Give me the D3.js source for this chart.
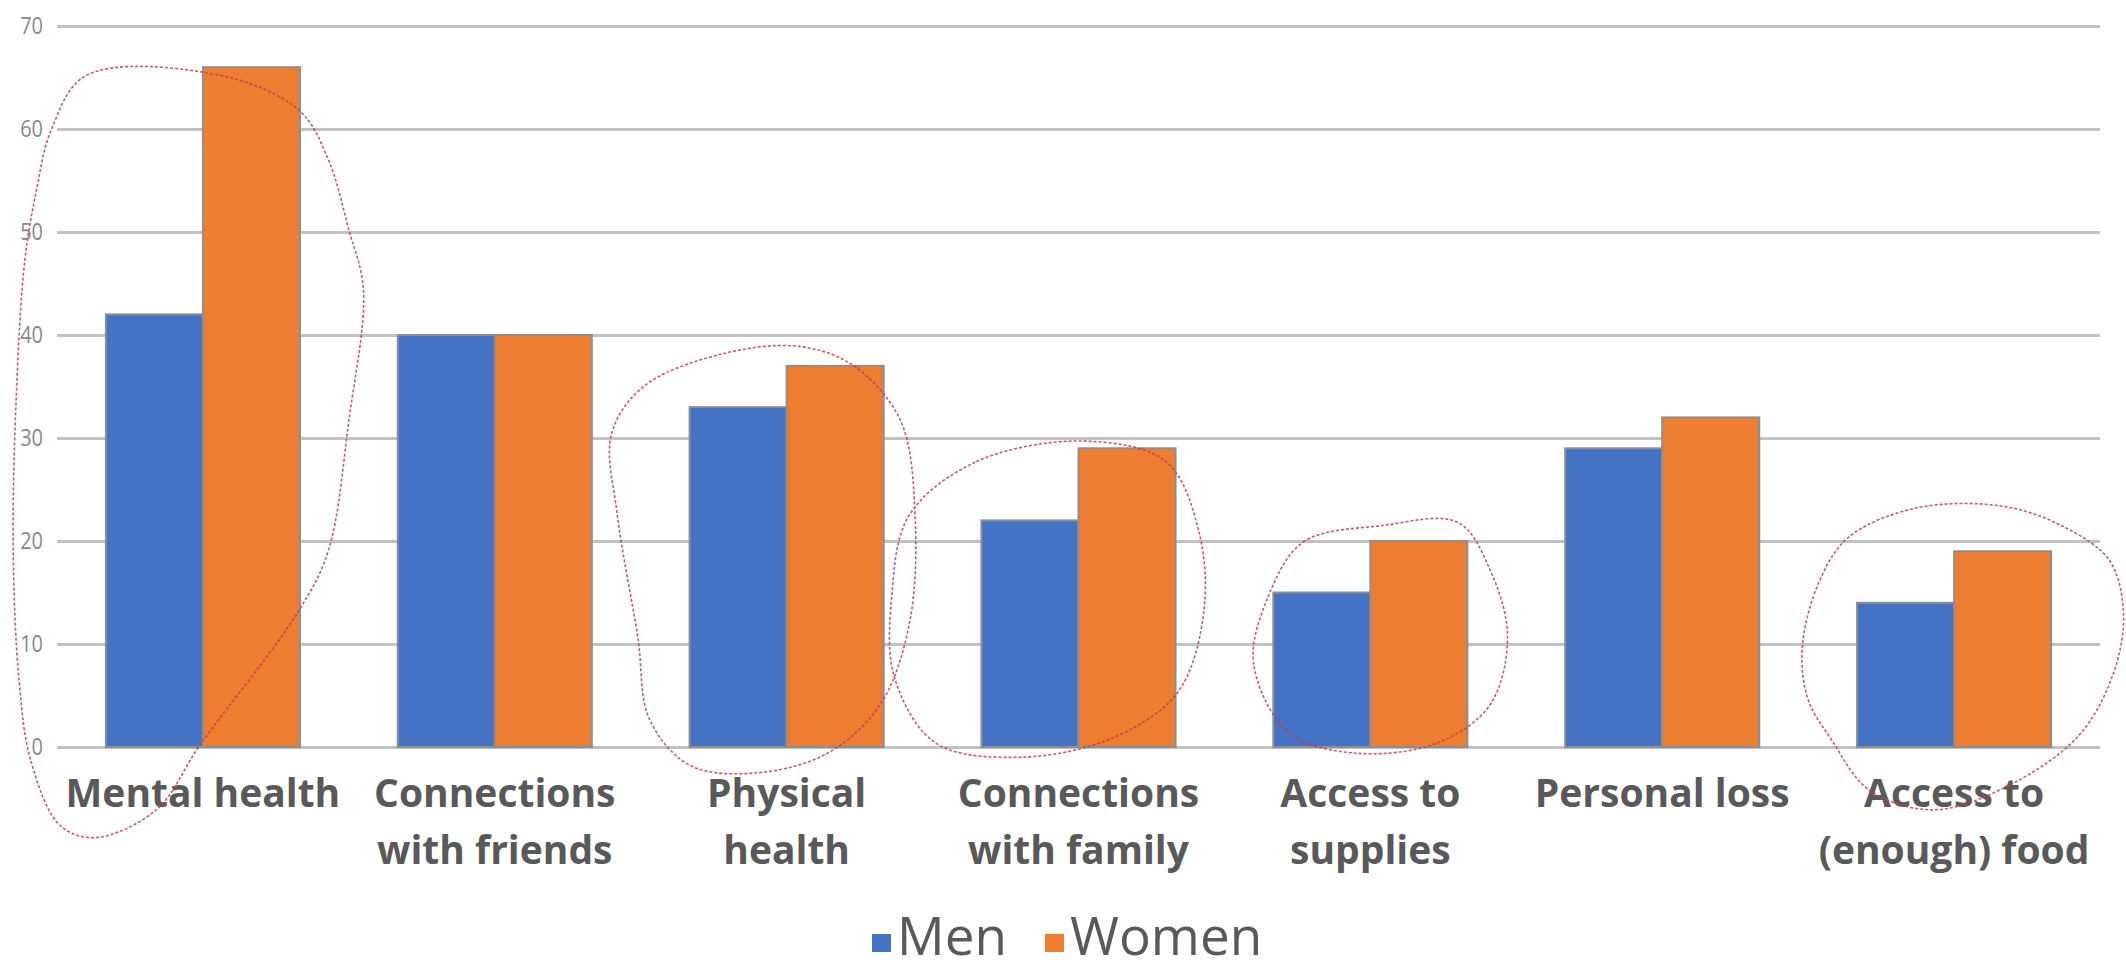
<!DOCTYPE html>
<html>
<head>
<meta charset="utf-8">
<script src="https://cdn.jsdelivr.net/npm/d3@7"></script>
<style>
  html, body { margin: 0; padding: 0; background: #ffffff; }
  svg { display: block; }
</style>
</head>
<body>
<svg id="chart" width="2126" height="971"></svg>
<script>
// Categories and their wrapped axis labels
const categories = [
  "Mental health",
  "Connections with friends",
  "Physical health",
  "Connections with family",
  "Access to supplies",
  "Personal loss",
  "Access to (enough) food"
];
const categoryLines = [
  ["Mental health"],
  ["Connections", "with friends"],
  ["Physical", "health"],
  ["Connections", "with family"],
  ["Access to", "supplies"],
  ["Personal loss"],
  ["Access to", "(enough) food"]
];

// Series
const seriesNames = ["Men", "Women"];
const menValues   = [42, 40, 33, 22, 15, 29, 14];
const womenValues = [66, 40, 37, 29, 20, 32, 19];
const seriesColors = ["#4472C4", "#ED7D31"];

// Y axis ticks
const yTicks = [0, 10, 20, 30, 40, 50, 60, 70];

// Hand-drawn highlight loops: points as [offset from category centre in band steps, value]
const highlightLoops = [
  { category: "Mental health", points: [
    [-0.40, 65.2], [0.06, 65.2], [0.33, 61.8], [0.43, 57.0], [0.50, 50.2], [0.55, 44.4],
    [0.50, 31.7], [0.43, 19.1], [0.33, 13.3], [-0.01, 0.2], [-0.16, -6.1], [-0.37, -8.8],
    [-0.49, -7.6], [-0.59, -1.3], [-0.63, 6.5], [-0.65, 19.1], [-0.64, 33.7], [-0.61, 47.3],
    [-0.57, 54.1], [-0.52, 59.9]
  ]},
  { category: "Physical health", points: [
    [-0.58, 22.5], [-0.60, 30.4], [-0.49, 35.0], [-0.23, 38.1], [0.04, 38.9], [0.23, 37.0],
    [0.39, 31.7], [0.44, 22.5], [0.42, 11.9], [0.32, 4.1], [0.14, -0.6], [-0.10, -2.5],
    [-0.33, -1.8], [-0.47, 2.7], [-0.51, 10.7]
  ]},
  { category: "Connections with family", points: [
    [-0.58, 22.5], [-0.35, 27.7], [0.02, 29.7], [0.30, 27.7], [0.41, 21.2], [0.43, 13.3],
    [0.34, 5.3], [0.11, 0.8], [-0.21, -1.0], [-0.49, 0.4], [-0.63, 6.7], [-0.64, 14.6]
  ]},
  { category: "Access to supplies", points: [
    [-0.35, 14.6], [-0.23, 19.9], [0.04, 21.5], [0.30, 21.8], [0.41, 17.2], [0.47, 10.7],
    [0.41, 4.1], [0.23, 0.4], [-0.05, -0.6], [-0.28, 1.4], [-0.40, 8.1]
  ]},
  { category: "Access to (enough) food", points: [
    [-0.52, 9.7], [-0.46, 16.2], [-0.36, 20.4], [-0.13, 23.2], [0.16, 23.4], [0.36, 21.6],
    [0.53, 18.2], [0.58, 13.3], [0.55, 7.5], [0.43, 1.2], [0.19, -3.7], [-0.07, -6.1],
    [-0.29, -4.2], [-0.42, 0.7], [-0.50, 4.6]
  ]}
];

const svg = d3.select("#chart");
const plot = { left: 57, right: 2100, top: 26, bottom: 747 };

const y = d3.scaleLinear().domain([0, 70]).range([plot.bottom, plot.top]);
const x0 = d3.scaleBand()
  .domain(categories)
  .range([plot.left, plot.right])
  .paddingInner(0.335)
  .paddingOuter(0.1675);
const x1 = d3.scaleBand().domain(seriesNames).range([0, x0.bandwidth()]);
const color = d3.scaleOrdinal().domain(seriesNames).range(seriesColors);

// Gridlines and value labels
const yAxis = d3.axisLeft(y)
  .tickValues(yTicks)
  .tickSize(-(plot.right - plot.left))
  .tickPadding(14);

const gAxis = svg.append("g")
  .attr("transform", `translate(${plot.left},0)`)
  .call(yAxis);
gAxis.select(".domain").remove();
gAxis.selectAll(".tick line")
  .attr("stroke", "#c2c2c2")
  .attr("stroke-width", 3);
gAxis.selectAll(".tick text")
  .attr("fill", "#8a8a8a")
  .attr("font-family", "'Open Sans', sans-serif")
  .attr("font-size", 20)
  .attr("transform", "scale(1,1.15)");

// Bars
const rows = categories.map((c, i) => ({
  category: c,
  values: [
    { series: "Men", value: menValues[i] },
    { series: "Women", value: womenValues[i] }
  ]
}));

const groups = svg.append("g")
  .selectAll("g")
  .data(rows)
  .join("g")
  .attr("transform", d => `translate(${x0(d.category)},0)`);

groups.selectAll("rect")
  .data(d => d.values)
  .join("rect")
  .attr("x", d => x1(d.series))
  .attr("y", d => y(d.value))
  .attr("width", x1.bandwidth())
  .attr("height", d => y(0) - y(d.value))
  .attr("fill", d => color(d.series))
  .attr("stroke", "#8e8e8e")
  .attr("stroke-width", 2);

// Category labels
const labelG = svg.append("g")
  .attr("font-family", "'Open Sans', sans-serif")
  .attr("font-weight", "bold")
  .attr("font-size", 39)
  .attr("fill", "#595959")
  .attr("text-anchor", "middle");

labelG.selectAll("text")
  .data(categories.map((c, i) => ({ category: c, lines: categoryLines[i] })))
  .join("text")
  .attr("x", d => x0(d.category) + x0.bandwidth() / 2)
  .attr("y", 807)
  .selectAll("tspan")
  .data(d => d.lines.map((l, k) => ({ text: l, k, cx: x0(d.category) + x0.bandwidth() / 2 })))
  .join("tspan")
  .attr("x", d => d.cx)
  .attr("dy", d => d.k === 0 ? 0 : 57)
  .text(d => d.text);

// Legend
const legend = svg.append("g")
  .attr("font-family", "'Open Sans', sans-serif")
  .attr("font-size", 53)
  .attr("fill", "#595959");
const legendX = [872, 1045];
seriesNames.forEach((s, i) => {
  legend.append("rect")
    .attr("x", legendX[i])
    .attr("y", 934)
    .attr("width", 19)
    .attr("height", 18)
    .attr("fill", color(s));
  legend.append("text")
    .attr("x", legendX[i] + 25)
    .attr("y", 955)
    .text(s);
});

// Highlight loops drawn over the bars
const loopG = svg.append("g")
  .attr("fill", "none")
  .attr("stroke", "#cc3a4a")
  .attr("stroke-width", 1.6)
  .attr("stroke-dasharray", "3,2")
  .attr("opacity", 0.85);

highlightLoops.forEach(loop => {
  const cx = x0(loop.category) + x0.bandwidth() / 2;
  const path = d3.line()
    .x(p => cx + p[0] * x0.step())
    .y(p => y(p[1]))
    .curve(d3.curveCatmullRomClosed.alpha(0.5));
  loopG.append("path").attr("d", path(loop.points));
});
</script>
</body>
</html>
